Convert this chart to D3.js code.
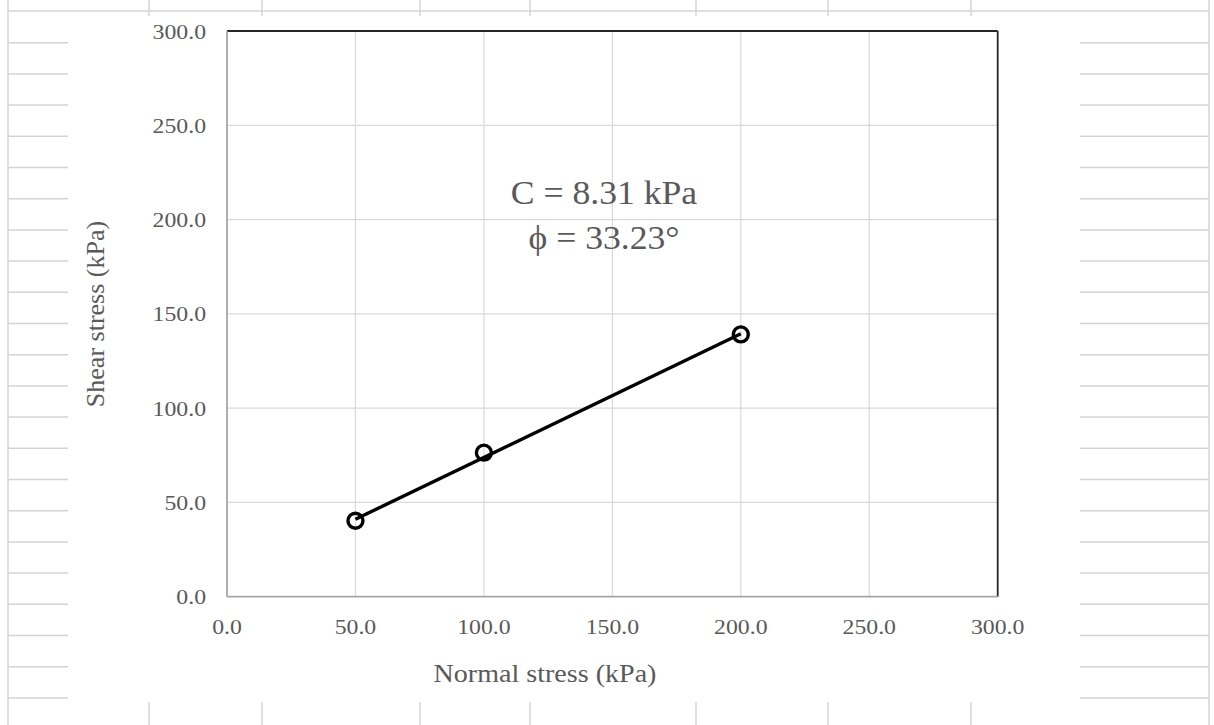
<!DOCTYPE html>
<html><head><meta charset="utf-8">
<script src="https://cdn.jsdelivr.net/npm/d3@7"></script>
<style>body{margin:0;background:#fff}svg{display:block}</style>
</head><body><svg id="c" width="1214" height="725"></svg>
<script>
// ---- data ----
const normalStress = [50, 100, 200];
const shearStress = [40.3, 76.4, 139.1];
const trendX = [50, 200];
const trendY = [41.1, 139.4];
const xTicks = [0, 50, 100, 150, 200, 250, 300];
const yTicks = [0, 50, 100, 150, 200, 250, 300];
const annotation = ["C = 8.31 kPa", "\u03D5 = 33.23\u00B0"];
const xTitle = "Normal stress (kPa)";
const yTitle = "Shear stress (kPa)";

const svg = d3.select("#c");
const sx = 1.08; // horizontal stretch of text in the reference

// ---- spreadsheet background ----
const grid = svg.append("g").attr("stroke", "#d4d4d4").attr("stroke-width", 1.5);
grid.append("line").attr("x1", 8).attr("x2", 8).attr("y1", 0).attr("y2", 725);
grid.append("line").attr("x1", 1209).attr("x2", 1209).attr("y1", 0).attr("y2", 725);
grid.append("line").attr("x1", 8).attr("x2", 1209).attr("y1", 11).attr("y2", 11);
const colX = [149, 262, 420, 530, 696, 828, 971];
colX.forEach(x => {
  grid.append("line").attr("x1", x).attr("x2", x).attr("y1", 0).attr("y2", 16);
  grid.append("line").attr("x1", x).attr("x2", x).attr("y1", 702).attr("y2", 725);
});
d3.range(22).map(i => 42.7 + i * 31.2).forEach(y => {
  grid.append("line").attr("x1", 8).attr("x2", 68).attr("y1", y).attr("y2", y);
  grid.append("line").attr("x1", 1080).attr("x2", 1209).attr("y1", y).attr("y2", y);
});

// ---- plot ----
const L = 227, R = 997.7, T = 31, B = 596.7;
const x = d3.scaleLinear().domain([0, 300]).range([L, R]);
const y = d3.scaleLinear().domain([0, 300]).range([B, T]);
const font = "'Liberation Serif', 'Times New Roman', serif";
const gray = "#595959";

// gridlines
svg.append("g").selectAll("line").data(xTicks.slice(1, -1)).join("line")
  .attr("x1", d => x(d)).attr("x2", d => x(d)).attr("y1", T).attr("y2", B)
  .attr("stroke", "#d9d9d9").attr("stroke-width", 1.2);
svg.append("g").selectAll("line").data(yTicks.slice(1, -1)).join("line")
  .attr("y1", d => y(d)).attr("y2", d => y(d)).attr("x1", L).attr("x2", R)
  .attr("stroke", "#d9d9d9").attr("stroke-width", 1.2);

// frame
svg.append("line").attr("x1", L).attr("x2", R).attr("y1", T).attr("y2", T).attr("stroke", "#262626").attr("stroke-width", 1.8);
svg.append("line").attr("x1", R).attr("x2", R).attr("y1", T).attr("y2", B).attr("stroke", "#262626").attr("stroke-width", 1.8);
svg.append("line").attr("x1", L).attr("x2", L).attr("y1", T).attr("y2", B).attr("stroke", "#a6a6a6").attr("stroke-width", 1.8);
svg.append("line").attr("x1", L).attr("x2", R).attr("y1", B).attr("y2", B).attr("stroke", "#a6a6a6").attr("stroke-width", 1.8);

function stext(g, tx, ty, txt, size, anchor) {
  return g.append("text")
    .attr("transform", `translate(${tx},${ty}) scale(${sx},1)`)
    .attr("text-anchor", anchor).attr("font-family", font)
    .attr("font-size", size).attr("fill", gray).text(txt);
}

// tick labels
const tg = svg.append("g");
xTicks.forEach(t => stext(tg, x(t), 634, d3.format(".1f")(t), 22, "middle"));
yTicks.forEach(t => stext(tg, 206, y(t) + 7.5, d3.format(".1f")(t), 22, "end"));

// titles
stext(svg, 545, 682, xTitle, 26, "middle");
svg.append("text").attr("transform", `translate(104,314) rotate(-90)`)
  .attr("text-anchor", "middle").attr("font-family", font).attr("font-size", 26)
  .attr("fill", gray).text(yTitle);

// annotation
stext(svg, 604, 204, annotation[0], 33, "middle");
stext(svg, 604, 249, annotation[1], 33, "middle");

// trendline
const pts = trendX.map((v, i) => [v, trendY[i]]);
svg.append("path").datum(pts)
  .attr("d", d3.line().x(d => x(d[0])).y(d => y(d[1])))
  .attr("fill", "none").attr("stroke", "#000").attr("stroke-width", 3.4);

// points
svg.append("g").selectAll("circle").data(normalStress.map((v, i) => [v, shearStress[i]])).join("circle")
  .attr("cx", d => x(d[0])).attr("cy", d => y(d[1])).attr("r", 7.5)
  .attr("fill", "#fff").attr("fill-opacity", 0).attr("stroke", "#000").attr("stroke-width", 3.4);
</script></body></html>
